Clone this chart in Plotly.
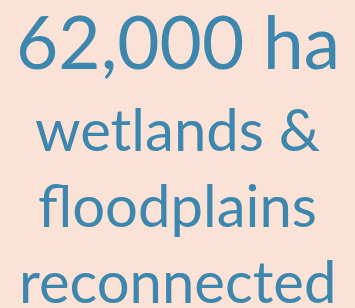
import plotly.graph_objects as go

lines = ["62,000 ha", "wetlands &", "floodplains", "reconnected"]
sizes = [73, 58, 58, 58]
y_px = [41, 128, 204, 280]  # centre of each line, px from top

W, H = 355, 308
fig = go.Figure()
for txt, s, yp in zip(lines, sizes, y_px):
    fig.add_annotation(text=txt, x=0.5, y=1 - yp / H, xref="paper", yref="paper",
                       xanchor="center", yanchor="middle", showarrow=False,
                       font=dict(family="Lato", size=s, color="#3D87AE"))
fig.update_xaxes(visible=False)
fig.update_yaxes(visible=False)
fig.update_layout(width=W, height=H, margin=dict(l=0, r=0, t=0, b=0),
                  paper_bgcolor="#FAE3D6", plot_bgcolor="#FAE3D6", showlegend=False)
fig.write_html("out.html", config={"displayModeBar": False, "staticPlot": True},
               post_script="document.body.style.margin='0';document.body.style.background='#FAE3D6';")
